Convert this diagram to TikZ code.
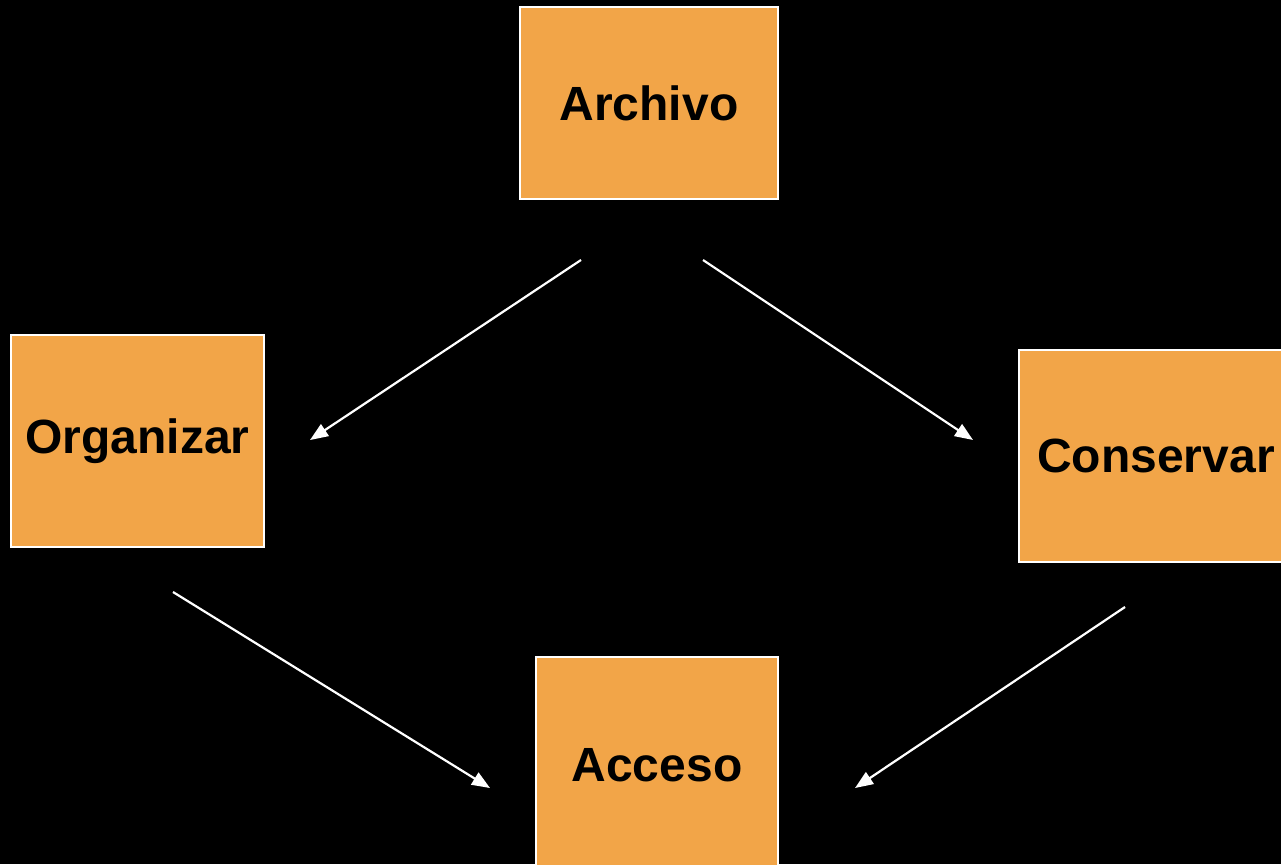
\documentclass[tikz,border=0pt]{standalone}
\usepackage{fontspec}
\setmainfont{Liberation Sans}
\usetikzlibrary{arrows.meta}
\definecolor{boxfill}{HTML}{F2A548}
\begin{document}
\begin{tikzpicture}[x=1pt,y=-1pt,
  box/.style={draw=white,line width=2pt,fill=boxfill,inner sep=0pt,
    font=\fontsize{48}{57}\selectfont\bfseries,text=black},
  conn/.style={draw=white,line width=2.2pt,-{Triangle[length=18pt,width=14pt]}}]
\fill[black] (0,0) rectangle (1281,864);
\useasboundingbox (0,0) rectangle (1281,864);
\clip (0,0) rectangle (1281,864);
\node[box,minimum width=258pt,minimum height=192pt] (archivo) at (649,103) {\raisebox{-1pt}{Archivo}};
\node[box,minimum width=253pt,minimum height=212pt] (organizar) at (137.5,441) {\raisebox{-6pt}{Organizar}};
\node[box,minimum width=274pt,minimum height=212pt] (conservar) at (1156,456) {\raisebox{-3pt}{Conservar}};
\node[box,minimum width=242pt,minimum height=216pt] (acceso) at (657,765) {Acceso};
\coordinate (a1s) at (581,260);
\coordinate (a1e) at (310,440);
\coordinate (a2s) at (703,260);
\coordinate (a2e) at (973,440);
\coordinate (a3s) at (173,592);
\coordinate (a3e) at (490,788);
\coordinate (a4s) at (1125,607);
\coordinate (a4e) at (855,788);
\draw[conn] (a1s) -- (a1e);
\draw[conn] (a2s) -- (a2e);
\draw[conn] (a3s) -- (a3e);
\draw[conn] (a4s) -- (a4e);
\end{tikzpicture}
\end{document}
